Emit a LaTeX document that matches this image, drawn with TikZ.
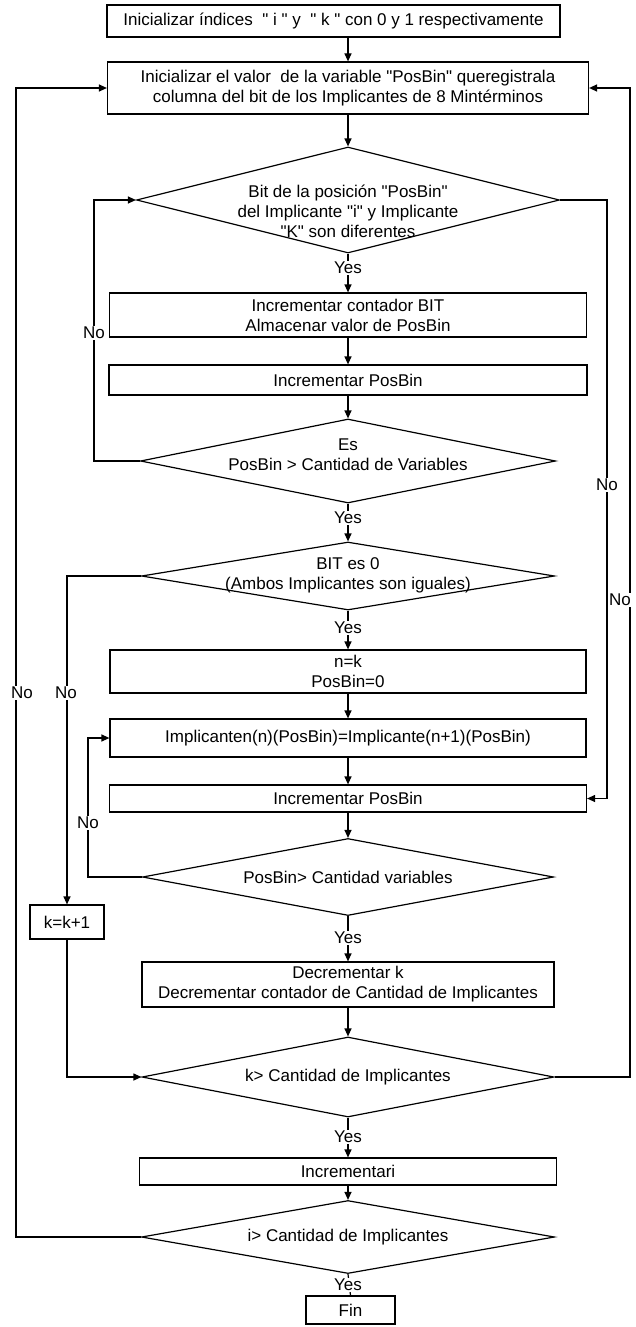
\documentclass[tikz,border=0pt]{standalone}
\usepackage{fontspec}
\setmainfont{Liberation Sans}
\usetikzlibrary{shapes.geometric,arrows.meta,calc}
\newcommand{\qd}{\textquotedbl}
\begin{document}
\begin{tikzpicture}[x=1pt,y=-1pt,
  every node/.style={font=\fontsize{17}{20}\selectfont, inner sep=0pt},
  box/.style={draw, line width=1.2pt, rectangle, align=center},
  dia/.style={draw, line width=1.2pt, diamond, inner sep=0pt},
  dtext/.style={align=center},
  lbl/.style={fill=white, inner sep=1pt},
  conn/.style={line width=1.2pt},
  arr/.style={line width=1.2pt, -{Triangle[length=8pt,width=7pt]}}]
\useasboundingbox (0,0) rectangle (636,1327);

% main column
\node[box, minimum width=453pt, minimum height=32pt] (b1) at (333.5,21)
  {Inicializar índices \ \qd{} i \qd{} y \ \qd{} k \qd{} con 0 y 1 respectivamente};
\node[box, minimum width=481pt, minimum height=52pt] (b2) at (348,88)
  {Inicializar el valor \ de la variable \qd{}PosBin\qd{} queregistrala\\columna del bit de los Implicantes de 8 Mintérminos};
\node[dia, minimum width=423pt, minimum height=106pt] (d1) at (348,200) {};
\node[dtext] (d1t) at (348,211) {Bit de la posición \qd{}PosBin\qd{}\\del Implicante \qd{}i\qd{} y Implicante\\\qd{}K\qd{} son diferentes};
\node[box, minimum width=477pt, minimum height=44pt] (b3) at (348,315)
  {Incrementar contador BIT\\Almacenar valor de PosBin};
\node[box, minimum width=478pt, minimum height=30pt] (b4) at (348,380) {Incrementar PosBin};
\node[dia, minimum width=415pt, minimum height=84pt] (d2) at (348,461) {};
\node[dtext] (d2t) at (348,455) {Es\\PosBin > Cantidad de Variables};
\node[dia, minimum width=413pt, minimum height=68pt] (d3) at (348,576) {};
\node[dtext] (d3t) at (348,575) {BIT es 0\\(Ambos Implicantes son iguales)};
\node[box, minimum width=476pt, minimum height=43pt] (b5) at (348,671.5) {n=k\\PosBin=0};
\node[box, minimum width=476pt, minimum height=38pt] (b6) at (348,738)
  {Implicanten(n)(PosBin)=Implicante(n+1)(PosBin)};
\node[box, minimum width=477pt, minimum height=27pt] (b7) at (348,798.5) {Incrementar PosBin};
\node[dia, minimum width=411pt, minimum height=77pt] (d4) at (348,877) {};
\node[dtext] (d4t) at (348,877) {PosBin> Cantidad variables};
\node[box, minimum width=74pt, minimum height=34pt] (kb) at (67,922) {k=k+1};
\node[box, minimum width=412pt, minimum height=45pt] (b8) at (348,984.5)
  {Decrementar k\\Decrementar contador de Cantidad de Implicantes};
\node[dia, minimum width=412pt, minimum height=80pt] (d5) at (348,1077) {};
\node[dtext] (d5t) at (348,1077) {k> Cantidad de Implicantes};
\node[box, minimum width=417pt, minimum height=27pt] (b9) at (348,1171.5) {Incrementari};
\node[dia, minimum width=413pt, minimum height=73pt] (d6) at (348,1237) {};
\node[dtext] (d6t) at (348,1237) {i> Cantidad de Implicantes};
\node[box, minimum width=89pt, minimum height=28pt] (fin) at (350.5,1310) {Fin};

% x positions of the side lines
\coordinate (xL0) at (16,0);
\coordinate (xL1) at (94,0);
\coordinate (xL3) at (88,0);
\coordinate (xR1) at (607,0);
\coordinate (xR2) at (630,0);

% main chain
\draw[arr] (b1.south -| b2.north) -- (b2.north);
\draw[arr] (b2.south) -- (d1.north);
\draw[arr] (d1.south) -- (b3.north);
\draw[arr] (b3.south) -- (b4.north);
\draw[arr] (b4.south) -- (d2.north);
\draw[arr] (d2.south) -- (d3.north);
\draw[arr] (d3.south) -- (b5.north);
\draw[arr] (b5.south) -- (b6.north);
\draw[arr] (b6.south) -- (b7.north);
\draw[arr] (b7.south) -- (d4.north);
\draw[arr] (d4.south) -- (b8.north);
\draw[arr] (b8.south) -- (d5.north);
\draw[arr] (d5.south) -- (b9.north);
\draw[arr] (b9.south) -- (d6.north);
\draw[conn] (d6.south) -- (fin.north);

% loops
\draw[arr] (d2.west) -- (d2.west -| xL1) |- (d1.west);
\draw[arr] (d1.east) -- (d1.east -| xR1) |- (b7.east);
\draw[arr] (d3.west) -| (kb.north);
\draw[arr] (kb.south) |- (d5.west);
\draw[arr] (d4.west) -- (d4.west -| xL3) |- (b6.west);
\draw[arr] (d5.east) -- (d5.east -| xR2) |- (b2.east);
\draw[arr] (d6.west) -- (d6.west -| xL0) |- (b2.west);

% labels
\node[lbl] (y1) at (348,268) {Yes};
\node[lbl] (y2) at (348,518) {Yes};
\node[lbl] (y3) at (348,628) {Yes};
\node[lbl] (y4) at (348,938) {Yes};
\node[lbl] (y5) at (348,1137) {Yes};
\node[lbl] (y6) at (348,1285) {Yes};
\node[lbl] (n1) at (94,333) {No};
\node[lbl] (n2) at (607,485) {No};
\node[lbl] (n3) at (620,600) {No};
\node[lbl] (n4) at (22,693) {No};
\node[lbl] (n5) at (66,693) {No};
\node[lbl] (n6) at (88,823) {No};
\end{tikzpicture}
\end{document}
